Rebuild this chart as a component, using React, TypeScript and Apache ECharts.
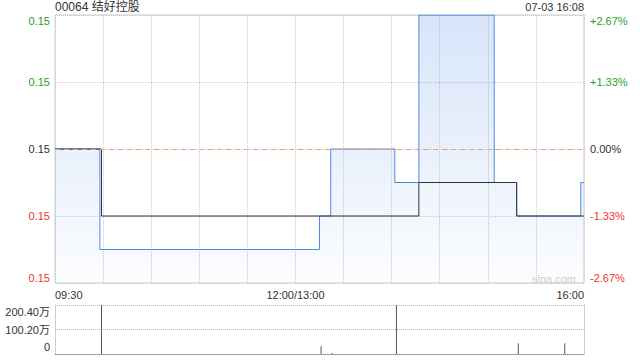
import React, { useEffect, useRef } from "react";
import * as echarts from "echarts";

const stockTitle = "00064 结好控股";
const stampText = "07-03 16:08";
const prevClose = 0.15;

const priceTimes = ["09:30", "09:58", "13:15", "13:22", "14:02", "14:17", "15:04", "15:18", "15:58", "16:00"];
const priceValues = [0.15, 0.147, 0.148, 0.15, 0.149, 0.154, 0.149, 0.148, 0.149, 0.149];

const avgTimes = ["09:30", "09:59", "14:17", "15:18", "16:00"];
const avgValues = [0.15, 0.148, 0.149, 0.148, 0.148];

const volTimes = ["09:59", "13:16", "13:23", "14:03", "15:19", "15:48"];
const volValues = [200.4, 32, 4, 199, 44, 44]; // 万

const xTickLabels: Record<number, string> = { 0: "09:30", 150: "12:00/13:00", 330: "16:00" };

const FONT = 'Arial, "Liberation Sans", "Noto Sans CJK SC", sans-serif';
const GREEN = "#1f9f1f";
const RED = "#f03434";
const DARK = "#333";

const tIdx = (s: string) => {
  const [h, m] = s.split(":").map(Number);
  const t = h * 60 + m;
  return t <= 720 ? t - 570 : t - 780 + 150;
};

const labelColor = (v: any) => {
  const n = Number(v);
  if (Math.abs(n - prevClose) < 1e-6) return DARK;
  return n > prevClose ? GREEN : RED;
};

export default function App() {
  const ref = useRef<HTMLDivElement>(null);
  useEffect(() => {
    document.body.style.margin = "0";
    const chart = echarts.init(ref.current!, null, { renderer: "svg" });
    const grid0 = { left: 55, right: 56, top: 15, height: 268 };
    const option: any = {
      animation: false,
      textStyle: { fontFamily: FONT },
      title: [
        { text: stockTitle, left: 55, top: 1, padding: 0, textStyle: { fontSize: 12, fontWeight: "normal", color: DARK, fontFamily: FONT } },
        { text: stampText, right: 56, top: 1, padding: 0, textStyle: { fontSize: 11, fontWeight: "normal", color: DARK, fontFamily: FONT } },
      ],
      grid: [
        { ...grid0, show: true, borderColor: "#ccc", borderWidth: 1, backgroundColor: "transparent" },
        { left: 55, right: 56, top: 305, height: 49 },
        { left: 55, right: 56, top: 312, height: 35 },
      ],
      xAxis: [
        {
          type: "value", gridIndex: 0, min: 0, max: 330, interval: 30,
          axisLine: { show: false }, axisTick: { show: false },
          splitLine: { show: true, lineStyle: { color: "#ccc", type: "dotted" } },
          axisLabel: {
            show: true, margin: 6, fontSize: 11, color: DARK, fontFamily: FONT,
            alignMinLabel: "left", alignMaxLabel: "right",
            formatter: (v: number) => xTickLabels[Math.round(v)] ?? "",
          },
        },
        {
          type: "value", gridIndex: 1, min: 0, max: 330,
          axisLine: { show: true, lineStyle: { color: "#888", type: "dotted" } },
          axisTick: { show: false }, axisLabel: { show: false }, splitLine: { show: false },
        },
        {
          type: "value", gridIndex: 2, min: 0, max: 330, show: false,
        },
      ],
      yAxis: [
        {
          type: "value", gridIndex: 0, position: "left", min: 0.146, max: 0.154, interval: 0.002,
          axisLine: { show: false }, axisTick: { show: false },
          splitLine: { show: true, lineStyle: { color: "#ccc", type: "dotted" } },
          axisLabel: {
            margin: 5, fontSize: 11, fontFamily: FONT, color: labelColor,
            verticalAlignMinLabel: "bottom", verticalAlignMaxLabel: "top",
            formatter: (v: number) => Number(v).toFixed(2),
          },
        },
        {
          type: "value", gridIndex: 0, position: "right", min: 0.146, max: 0.154, interval: 0.002,
          axisLine: { show: false }, axisTick: { show: false }, splitLine: { show: false },
          axisLabel: {
            margin: 6, fontSize: 11, fontFamily: FONT, color: labelColor,
            verticalAlignMinLabel: "bottom", verticalAlignMaxLabel: "top",
            formatter: (v: number) => {
              const p = ((Number(v) - prevClose) / prevClose) * 100;
              if (Math.abs(p) < 0.001) return "0.00%";
              return (p > 0 ? "+" : "") + p.toFixed(2) + "%";
            },
          },
        },
        {
          type: "value", gridIndex: 1, position: "left", min: 0, max: 200.4, interval: 100.2,
          axisLine: { show: true, lineStyle: { color: "#ccc" } }, axisTick: { show: false },
          axisLabel: { show: false },
          splitLine: { show: true, lineStyle: { color: "#bbb", type: "dotted" } },
        },
        {
          type: "value", gridIndex: 1, position: "right", min: 0, max: 200.4, interval: 100.2,
          axisLine: { show: true, lineStyle: { color: "#ccc" } }, axisTick: { show: false },
          axisLabel: { show: false }, splitLine: { show: false },
        },
        {
          type: "value", gridIndex: 2, position: "left", min: 0, max: 200.4, interval: 100.2,
          axisLine: { show: false }, axisTick: { show: false }, splitLine: { show: false },
          axisLabel: {
            margin: 5, fontSize: 11, fontFamily: FONT, color: DARK,
            formatter: (v: number) => (Number(v) === 0 ? "0" : Number(v).toFixed(2) + "万"),
          },
        },
      ],
      series: [
        {
          type: "line", xAxisIndex: 0, yAxisIndex: 0, step: "end", symbol: "none",
          data: priceTimes.map((t, i) => [tIdx(t), priceValues[i]]),
          lineStyle: { color: "#4e88e6", width: 1 },
          areaStyle: {
            origin: "start",
            color: new echarts.graphic.LinearGradient(0, 0, 0, 1, [
              { offset: 0, color: "rgba(78,136,230,0.32)" },
              { offset: 1, color: "rgba(78,136,230,0.03)" },
            ]),
          },
          markLine: {
            silent: true, symbol: "none", label: { show: false },
            lineStyle: { color: "#f0a06a", type: [5, 4], width: 1 },
            data: [{ yAxis: prevClose }],
          },
          z: 2,
        },
        {
          type: "line", xAxisIndex: 0, yAxisIndex: 0, step: "end", symbol: "none",
          data: avgTimes.map((t, i) => [tIdx(t), avgValues[i]]),
          lineStyle: { color: "#333", width: 1 },
          z: 3,
        },
        {
          type: "bar", xAxisIndex: 1, yAxisIndex: 2, barWidth: 1,
          data: volTimes.map((t, i) => [tIdx(t), volValues[i]]),
          itemStyle: { color: "#555" },
        },
      ],
      graphic: [
        {
          type: "text", left: 532, top: 273, silent: true,
          style: { text: "sina.com", fill: "#cfcfcf", fontSize: 11, fontFamily: FONT },
        },
      ],
    };
    chart.setOption(option);
    return () => chart.dispose();
  }, []);
  return <div ref={ref} style={{ width: 640, height: 360 }} />;
}
